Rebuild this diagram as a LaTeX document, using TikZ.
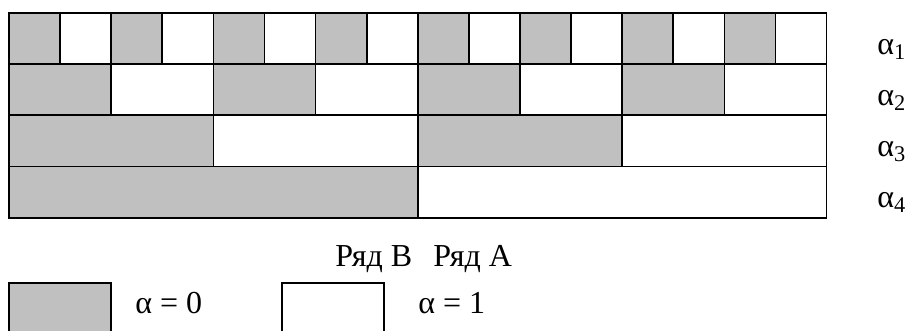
\documentclass[tikz,border=0pt]{standalone}
\usepackage{fontspec}
\setmainfont{Liberation Serif}
\definecolor{cellgray}{RGB}{192,192,192}
\begin{document}
\begin{tikzpicture}[x=0.75pt,y=-0.75pt,
  cell/.style={draw=black,line width=1.3pt},
  legbox/.style={draw=black,line width=1pt},
  lbl/.style={font=\fontsize{24}{28}\selectfont,inner sep=0pt,anchor=base west}]
\useasboundingbox (0,0) rectangle (907,331);
\def\W{51.1}\def\H{51.17}
\foreach \r in {1,2,3,4}{
  \pgfmathtruncatemacro\w{2^(\r-1)}
  \pgfmathtruncatemacro\n{16/\w}
  \foreach \i in {1,...,\n}{
    \ifodd\i \def\fc{cellgray}\else\def\fc{white}\fi
    \pgfmathsetmacro\xa{9+(\i-1)*\w*\W}
    \pgfmathsetmacro\xb{9+\i*\w*\W}
    \pgfmathsetmacro\ya{13+(\r-1)*\H}
    \pgfmathsetmacro\yb{13+\r*\H}
    \draw[cell,fill=\fc] (\xa,\ya) rectangle (\xb,\yb);
  }
}
\node[lbl] (a1) at (877,55) {α\textsubscript{1}};
\node[lbl] (a2) at (877,106) {α\textsubscript{2}};
\node[lbl] (a3) at (877,157) {α\textsubscript{3}};
\node[lbl] (a4) at (877,208) {α\textsubscript{4}};
\node[lbl] (rb) at (335,267) {Ряд В};
\node[lbl] (ra) at (433,267) {Ряд А};
\draw[legbox,fill=cellgray] (9,283) rectangle (111,345);
\draw[legbox,fill=white] (282,283) rectangle (384,345);
\node[lbl] (l0) at (135,313.5) {α = 0};
\node[lbl] (l1) at (418,313.5) {α = 1};
\end{tikzpicture}
\end{document}
